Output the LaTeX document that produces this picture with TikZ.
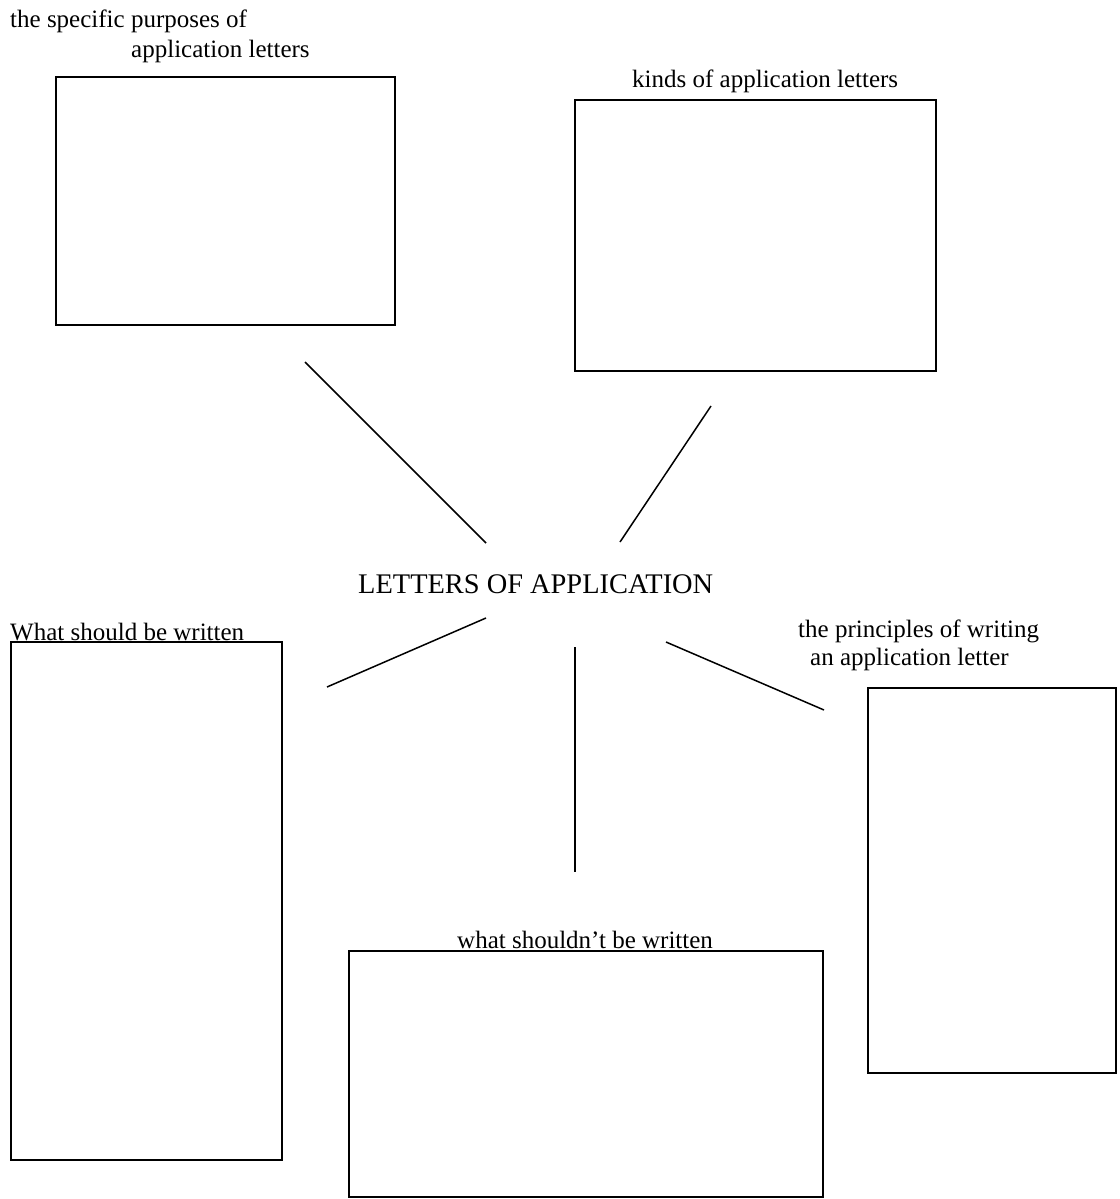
\documentclass[tikz,border=0pt]{standalone}
\usepackage{fontspec}
\setmainfont{Liberation Serif}
\begin{document}
\begin{tikzpicture}[x=1pt,y=-1pt,
  box/.style={draw,line width=1.5pt,inner sep=0pt,outer sep=0pt,anchor=north west},
  lbl/.style={inner sep=0pt,anchor=base west,font=\fontsize{25}{30}\selectfont},
  ttl/.style={inner sep=0pt,anchor=base west,font=\fontsize{28.4}{34}\selectfont},
  spoke/.style={line width=1.5pt}]
\useasboundingbox (0,0) rectangle (1119,1199);
% boxes
\node[box,minimum width=339pt,minimum height=248pt] (b1) at (56,77) {};
\node[box,minimum width=361pt,minimum height=271pt] (b2) at (575,100) {};
\node[box,minimum width=271pt,minimum height=518pt] (b3) at (11,642) {};
\node[box,minimum width=248pt,minimum height=385pt] (b4) at (868,688) {};
\node[box,minimum width=474pt,minimum height=246pt] (b5) at (349,951) {};
% labels
\node[lbl] (t1a) at (10,28) {the specific purposes of};
\node[lbl] (t1b) at (131,58) {application letters};
\node[lbl] (t2) at (632,87) {kinds of application letters};
\node[ttl] (title) at (358,593) {LETTERS OF APPLICATION};
\node[lbl] (t3) at (10,640) {What should be written};
\node[lbl] (t4a) at (798,637) {the principles of writing};
\node[lbl] (t4b) at (810,665) {an application letter};
\node[lbl] (t5) at (457,948) {what shouldn’t be written};
% spoke end points
\coordinate (a1) at (305,362); \coordinate (a2) at (486,543);
\coordinate (b1e) at (711,406); \coordinate (b2e) at (620,542);
\coordinate (c1) at (486,618); \coordinate (c2) at (327,687);
\coordinate (d1) at (575,647); \coordinate (d2) at (575,872);
\coordinate (e1) at (666,642); \coordinate (e2) at (824,710);
\draw[spoke] (a1) -- (a2);
\draw[spoke] (b1e) -- (b2e);
\draw[spoke] (c1) -- (c2);
\draw[spoke] (d1) -- (d2);
\draw[spoke] (e1) -- (e2);
\end{tikzpicture}
\end{document}
